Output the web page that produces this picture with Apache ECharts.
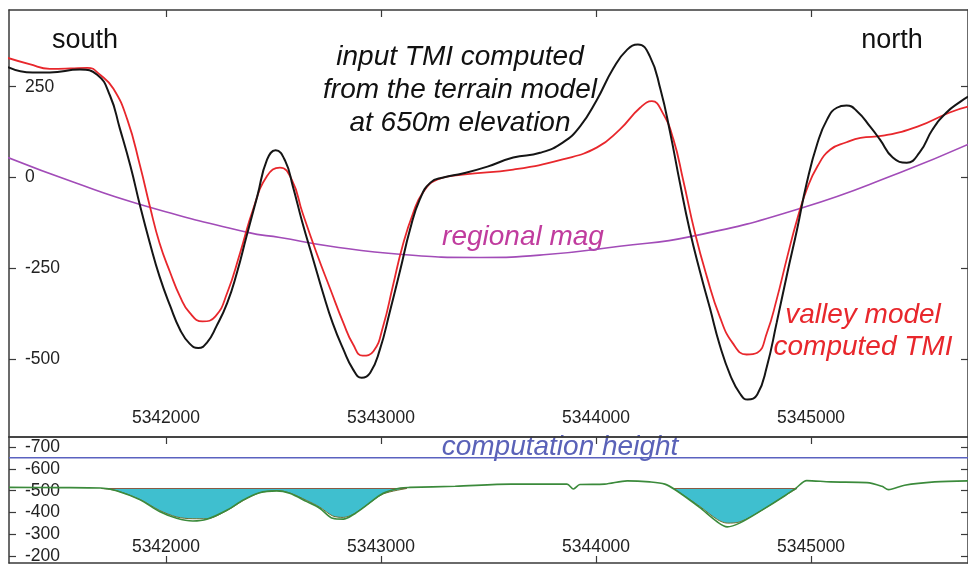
<!DOCTYPE html>
<html><head><meta charset="utf-8">
<script src="https://cdn.jsdelivr.net/npm/echarts@6/dist/echarts.min.js"></script>
<style>html,body{margin:0;padding:0;background:#fff}#c{width:968px;height:564px}</style>
</head><body><div id="c"></div>
<script>
// ---- data ----
const eastTicks = [5342000, 5343000, 5344000, 5345000];
const tmiTicks = [-500, -250, 0, 250];
const elevTicks = [-700, -600, -500, -400, -300, -200];

const inputTmiE = [5341265,5341380,5341460,5341600,5341680,5341740,5341785,5341835,5341880,5341925,5341970,5342020,5342065,5342110,5342150,5342190,5342235,5342285,5342330,5342375,5342425,5342470,5342510,5342555,5342590,5342635,5342685,5342730,5342775,5342825,5342870,5342910,5342950,5342995,5343040,5343090,5343135,5343180,5343230,5343290,5343380,5343495,5343615,5343740,5343845,5343925,5344005,5344080,5344145,5344195,5344250,5344300,5344345,5344390,5344435,5344485,5344530,5344575,5344625,5344670,5344705,5344750,5344795,5344840,5344890,5344935,5344980,5345030,5345075,5345120,5345165,5345215,5345275,5345320,5345380,5345445,5345505,5345565,5345630,5345695,5345730];
const inputTmiV = [304,289,289,297,283,225,136,31,-79,-180,-272,-354,-418,-457,-469,-455,-409,-345,-262,-161,-51,49,75,45,-24,-125,-226,-317,-400,-473,-528,-551,-537,-473,-372,-253,-143,-61,-14,0,11,30,55,68,96,140,215,300,352,366,334,242,123,-14,-143,-262,-360,-460,-545,-595,-611,-597,-519,-400,-262,-143,-15,95,160,192,198,182,140,105,55,41,69,132,179,209,223];

const valleyTmiE = [5341265,5341365,5341460,5341555,5341635,5341695,5341755,5341820,5341880,5341925,5341970,5342020,5342065,5342110,5342170,5342230,5342285,5342345,5342405,5342470,5342530,5342585,5342635,5342700,5342765,5342825,5342870,5342915,5342965,5343010,5343055,5343100,5343150,5343195,5343260,5343380,5343615,5343845,5344005,5344110,5344205,5344260,5344310,5344360,5344405,5344460,5344515,5344575,5344635,5344700,5344750,5344795,5344840,5344890,5344935,5344980,5345030,5345090,5345165,5345230,5345335,5345495,5345645,5345730];
const valleyTmiV = [329,312,299,300,302,282,245,160,31,-79,-180,-262,-327,-372,-396,-382,-317,-207,-88,4,27,-6,-97,-207,-308,-400,-459,-490,-478,-409,-299,-189,-97,-41,-6,8,22,50,83,132,192,210,178,105,-6,-152,-272,-382,-455,-487,-482,-427,-336,-217,-116,-33,31,77,97,109,115,140,179,195];

const regionalE = [5341265,5341575,5341880,5342380,5342530,5342765,5343100,5343460,5343770,5344110,5344445,5344960,5345415,5345730];
const regionalV = [55,-14,-74,-151,-165,-189,-212,-220,-212,-189,-162,-83,14,91];

const terrainE = [5341270,5341505,5341695,5341770,5341880,5341970,5342050,5342125,5342190,5342285,5342360,5342435,5342515,5342575,5342655,5342715,5342775,5342825,5342870,5342935,5343010,5343090,5343135,5343345,5343605,5343865,5343895,5343925,5344040,5344145,5344250,5344320,5344370,5344480,5344565,5344610,5344670,5344770,5344880,5344930,5344980,5345090,5345260,5345330,5345360,5345435,5345575,5345730];
const terrainV = [-515,-514,-512,-500,-458,-405,-374,-362,-370,-412,-458,-491,-499,-488,-450,-420,-374,-370,-390,-435,-488,-512,-515,-520,-530,-530,-508,-528,-530,-545,-540,-530,-503,-425,-357,-335,-353,-410,-478,-512,-546,-540,-537,-520,-505,-525,-540,-545];

const valleyTop = -510;
const valleyAE = [5341700,5341770,5341880,5341970,5342050,5342125,5342190,5342285,5342360,5342435,5342515,5342575,5342655,5342715,5342775,5342825,5342870,5342935,5343010,5343120];
const valleyAV = [-510,-500,-460,-410,-380,-372,-372,-410,-455,-490,-500,-490,-455,-425,-385,-378,-392,-435,-485,-510];
const valleyBE = [5344360,5344480,5344565,5344610,5344670,5344770,5344880,5344935];
const valleyBV = [-510,-430,-368,-352,-358,-410,-478,-510];

const computationHeight = -650;
const eastMin = 5341270, eastMax = 5345730;

// ---- build ----
const zip = (a, b) => a.map((x, i) => [x, b[i]]);
const FONT = "'Liberation Sans', Arial, sans-serif";
const frame = '#3a3a3a';
const chart = echarts.init(document.getElementById('c'), null, {renderer: 'canvas'});

function xAx(grid, pos, labels, margin, ticks) {
  return {
    type: 'value', gridIndex: grid, position: pos, min: eastMin, max: eastMax,
    splitLine: {show: false},
    axisLine: {show: true, onZero: false, lineStyle: {color: frame, width: 1.5}},
    axisTick: {show: ticks, inside: true, length: 7, customValues: eastTicks, lineStyle: {color: frame, width: 1.2}},
    axisLabel: {show: labels, inside: true, margin: margin, customValues: eastTicks, formatter: v => String(v),
      color: '#222', fontSize: 17.5, fontFamily: FONT}
  };
}
function yAx(grid, pos, min, max, ticks, labels, inverse) {
  return {
    type: 'value', gridIndex: grid, position: pos, min: min, max: max, inverse: inverse,
    splitLine: {show: false},
    axisLine: {show: true, onZero: false, lineStyle: {color: frame, width: 1.5}},
    axisTick: {show: true, inside: true, length: 7, customValues: ticks, lineStyle: {color: frame, width: 1.2}},
    axisLabel: {show: labels, inside: true, margin: 16, customValues: ticks,
      color: '#222', fontSize: 17.5, fontFamily: FONT}
  };
}

const option = {
  backgroundColor: '#ffffff',
  animation: false,
  grid: [
    {left: 9, top: 10, right: 0, height: 427, show: false, outerBoundsMode: 'none', containLabel: false},
    {left: 9, top: 437, right: 0, height: 126, show: false, outerBoundsMode: 'none', containLabel: false}
  ],
  xAxis: [
    xAx(0, 'bottom', true, 10, false),
    xAx(0, 'top', false, 0, true),
    xAx(1, 'top', false, 0, true),
    xAx(1, 'bottom', true, 7, true)
  ],
  yAxis: [
    yAx(0, 'left', -714, 461, tmiTicks, true, false),
    yAx(0, 'right', -714, 461, tmiTicks, false, false),
    yAx(1, 'left', -745, -170, elevTicks, true, true),
    yAx(1, 'right', -745, -170, elevTicks, false, true)
  ],
  series: [
    {name: 'regional mag', type: 'line', xAxisIndex: 0, yAxisIndex: 0, data: zip(regionalE, regionalV),
      smooth: true, showSymbol: false, lineStyle: {color: '#a24cb8', width: 1.6}},
    {name: 'valley model computed TMI', type: 'line', xAxisIndex: 0, yAxisIndex: 0, data: zip(valleyTmiE, valleyTmiV),
      smooth: 0.5, showSymbol: false, lineStyle: {color: '#e8272c', width: 1.8}},
    {name: 'input TMI', type: 'line', xAxisIndex: 0, yAxisIndex: 0, data: zip(inputTmiE, inputTmiV),
      smooth: 0.5, showSymbol: false, lineStyle: {color: '#151515', width: 2}},
    {name: 'computation height', type: 'line', xAxisIndex: 2, yAxisIndex: 2,
      data: [[eastMin, computationHeight], [eastMax, computationHeight]],
      showSymbol: false, lineStyle: {color: '#5a62c0', width: 1.6}},
    {name: 'valley A', type: 'line', xAxisIndex: 2, yAxisIndex: 2, data: zip(valleyAE, valleyAV),
      showSymbol: false, smooth: 0.3, lineStyle: {color: '#6e7030', width: 1},
      areaStyle: {color: '#3fbfcf', opacity: 1, origin: valleyTop}},
    {name: 'valley B', type: 'line', xAxisIndex: 2, yAxisIndex: 2, data: zip(valleyBE, valleyBV),
      showSymbol: false, smooth: 0.3, lineStyle: {color: '#6e7030', width: 1},
      areaStyle: {color: '#3fbfcf', opacity: 1, origin: valleyTop}},
    {name: 'valley top A', type: 'line', xAxisIndex: 2, yAxisIndex: 2,
      data: [[valleyAE[0], valleyTop], [valleyAE[valleyAE.length - 1], valleyTop]],
      showSymbol: false, lineStyle: {color: '#8a5a40', width: 1}},
    {name: 'valley top B', type: 'line', xAxisIndex: 2, yAxisIndex: 2,
      data: [[valleyBE[0], valleyTop], [valleyBE[valleyBE.length - 1], valleyTop]],
      showSymbol: false, lineStyle: {color: '#8a5a40', width: 1}},
    {name: 'terrain', type: 'line', xAxisIndex: 2, yAxisIndex: 2, data: zip(terrainE, terrainV),
      showSymbol: false, smooth: 0.3, lineStyle: {color: '#3b8a3b', width: 1.6}}
  ],
  graphic: [
    {type: 'text', x: 52, y: 41, style: {text: 'south', font: '27px ' + FONT, fill: '#111', textAlign: 'left', textVerticalAlign: 'middle', align: 'left', verticalAlign: 'middle'}},
    {type: 'text', x: 892, y: 41, style: {text: 'north', font: '27px ' + FONT, fill: '#111', textAlign: 'center', textVerticalAlign: 'middle', align: 'center', verticalAlign: 'middle'}},
    {type: 'text', x: 460, y: 90, style: {text: 'input TMI computed\nfrom the terrain model\nat 650m elevation', font: 'italic 28px ' + FONT, lineHeight: 33, fill: '#111', textAlign: 'center', textVerticalAlign: 'middle', align: 'center', verticalAlign: 'middle'}},
    {type: 'text', x: 523, y: 237, style: {text: 'regional mag', font: 'italic 28px ' + FONT, fill: '#c03c9e', textAlign: 'center', textVerticalAlign: 'middle', align: 'center', verticalAlign: 'middle'}},
    {type: 'text', x: 863, y: 331, style: {text: 'valley model\ncomputed TMI', font: 'italic 28px ' + FONT, lineHeight: 32, fill: '#e8272c', textAlign: 'center', textVerticalAlign: 'middle', align: 'center', verticalAlign: 'middle'}},
    {type: 'text', x: 560, y: 447, style: {text: 'computation height', font: 'italic 28px ' + FONT, fill: '#5a62b8', textAlign: 'center', textVerticalAlign: 'middle', align: 'center', verticalAlign: 'middle'}}
  ]
};
chart.setOption(option);
</script></body></html>
